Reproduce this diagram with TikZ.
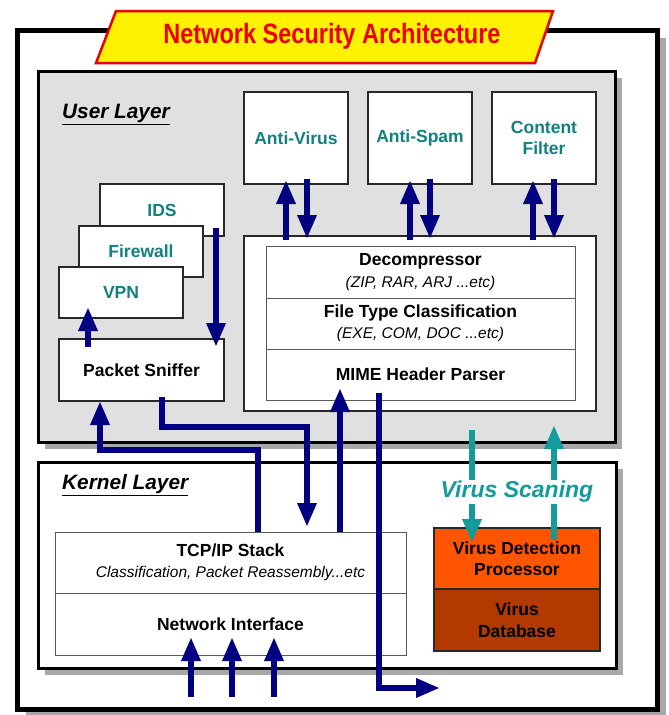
\documentclass[tikz,border=0pt]{standalone}
\usepackage{fontspec}
\setmainfont{Liberation Sans}
\usetikzlibrary{arrows.meta,calc,shadows}
\definecolor{navyc}{RGB}{0,0,128}
\definecolor{tealtxt}{RGB}{16,128,128}
\definecolor{tealarr}{RGB}{20,155,155}
\definecolor{layergray}{RGB}{224,224,224}
\definecolor{shadowgray}{RGB}{168,168,168}
\definecolor{vdorange}{RGB}{255,85,0}
\definecolor{vdbrown}{RGB}{178,58,0}
\definecolor{titlered}{RGB}{235,0,0}
\definecolor{boxline}{RGB}{40,40,40}
\definecolor{rowline}{RGB}{90,90,90}
\newcommand\subtxt[1]{{\normalfont\itshape\fontsize{15.5}{21.5}\selectfont #1}}
\tikzset{
  anyrect/.style={anchor=north west, inner sep=0pt, outer sep=0pt, align=center},
  layerbox/.style={anyrect, draw=black, line width=3pt,
    general shadow={fill=shadowgray, shadow xshift=6.5pt, shadow yshift=-6.5pt}},
  layertitle/.style={anchor=base west, inner sep=0pt,
    font=\bfseries\itshape\fontsize{20.8}{24}\selectfont},
  mbox/.style={anyrect, draw=boxline, line width=1.3pt, fill=white,
    font=\bfseries\fontsize{17.5}{21.5}\selectfont},
  svc/.style={mbox, text=tealtxt},
  rowbox/.style={anyrect, draw=rowline, line width=1pt, fill=white,
    font=\bfseries\fontsize{17.5}{21.5}\selectfont},
  vbox/.style={anyrect, draw=boxline, line width=1.3pt,
    font=\bfseries\fontsize{17.5}{21.5}\selectfont},
  navyarr/.style={draw=navyc, line width=6pt, line join=miter,
    -{Triangle[length=24pt,width=18pt]}},
  tealarrow/.style={draw=tealarr, line width=6pt,
    -{Triangle[length=24pt,width=18pt]}},
}
\begin{document}
\begin{tikzpicture}[x=1pt,y=-1pt]
\useasboundingbox (0,0) rectangle (669,715);

% outer frame
\node[anyrect, draw=black, line width=5pt, fill=white, minimum width=640, minimum height=679,
  general shadow={fill=shadowgray, shadow xshift=9pt, shadow yshift=-8pt}] (frame) at (17,30) {};

% title
\draw[draw=titlered, fill=yellow, line width=2.5pt, line join=miter]
  (96,63) -- (116,11) -- (553,11) -- (535,63) -- cycle;
\node[text=titlered, font=\bfseries\fontsize{28}{30}\selectfont, inner sep=0pt] (title) at (332,36)
  {\scalebox{0.84}[1]{Network Security Architecture}};

% user layer
\node[layerbox, fill=layergray, minimum width=577, minimum height=371] (user) at (38,71) {};
\node[layertitle] (userlbl) at (62,118) {\underline{User Layer}};

\node[svc, minimum width=104, minimum height=92] (av) at (244,92) {Anti-Virus};
\node[svc, minimum width=104, minimum height=92] (as) at (368,92) {Anti-Spam};
\node[svc, minimum width=104, minimum height=92] (cf) at (492,92) {Content\\Filter};

\node[mbox, minimum width=352, minimum height=175] (decomp) at (244,236) {};
\node[rowbox, minimum width=309, minimum height=52] (dec) at (266,246)
  {Decompressor\\\subtxt{(ZIP, RAR, ARJ ...etc)}};
\node[rowbox, minimum width=309, minimum height=51] (ftc) at (266,298)
  {File Type Classification\\\subtxt{(EXE, COM, DOC ...etc)}};
\node[rowbox, minimum width=309, minimum height=51] (mime) at (266,349) {MIME Header Parser};

\node[svc, minimum width=124, minimum height=52] (ids) at (100,184) {IDS};
\node[svc, minimum width=124, minimum height=51] (fw) at (79,226) {Firewall};
\node[svc, minimum width=124, minimum height=51] (vpn) at (59,267) {VPN};
\node[mbox, minimum width=165, minimum height=62] (sniffer) at (59,339) {Packet Sniffer};

% kernel layer
\node[layerbox, fill=white, minimum width=578, minimum height=206] (kernel) at (38,462) {};
\node[layertitle] (kernellbl) at (62,489) {\underline{Kernel Layer}};

\node[rowbox, minimum width=351, minimum height=61] (tcp) at (55,532)
  {TCP/IP Stack\\\subtxt{Classification, Packet Reassembly...etc}};
\node[rowbox, minimum width=351, minimum height=62] (nic) at (55,593) {Network Interface};

\node[vbox, fill=vdorange, minimum width=166, minimum height=61] (vdp) at (434,528) {Virus Detection\\Processor};
\node[vbox, fill=vdbrown, minimum width=166, minimum height=62] (vdb) at (434,589) {Virus\\Database};

% service arrows
\draw[navyarr] ($(av.south |- decomp.north)+(-10,4)$) -- ($(av.south)+(-10,-4)$);
\draw[navyarr] ($(av.south)+(11,-5)$) -- ($(av.south |- decomp.north)+(11,3)$);
\draw[navyarr] ($(as.south |- decomp.north)+(-10,4)$) -- ($(as.south)+(-10,-4)$);
\draw[navyarr] ($(as.south)+(10,-5)$) -- ($(as.south |- decomp.north)+(10,3)$);
\draw[navyarr] ($(cf.south |- decomp.north)+(-11,4)$) -- ($(cf.south)+(-11,-4)$);
\draw[navyarr] ($(cf.south)+(10,-5)$) -- ($(cf.south |- decomp.north)+(10,3)$);

% stack arrows
\draw[navyarr] ($(ids.south east)+(-8,-8)$) -- ($(sniffer.north east)+(-8,8)$);
\draw[navyarr] ($(sniffer.north west)+(29,8)$) -- ($(vpn.south west)+(29,-11)$);

% sniffer <-> tcp
\draw[navyarr] ($(sniffer.south)+(20.5,-4)$) |- ($(tcp.north)+(76.5,-105)$) -- ($(tcp.north)+(76.5,-5)$);
\draw[navyarr] ($(tcp.north)+(27.5,0)$) |- ($(sniffer.south)+(-41.5,49)$) -- ($(sniffer.south)+(-41.5,0)$);

% tcp -> mime, mime -> out
\draw[navyarr] ($(tcp.north)+(109.5,0)$) -- ($(mime.south)+(-80.5,-12)$);
\coordinate (out) at (440,688);
\draw[navyarr] ($(mime.south)+(-41.5,-7)$) |- (out);

% network input
\coordinate (in1) at (191,697);
\coordinate (in2) at (232,697);
\coordinate (in3) at (274,697);
\draw[navyarr] (in1) -- ($(in1 |- nic.south)+(0,-18)$);
\draw[navyarr] (in2) -- ($(in2 |- nic.south)+(0,-18)$);
\draw[navyarr] (in3) -- ($(in3 |- nic.south)+(0,-18)$);

% virus scanning
\draw[tealarrow] ($(vdp.north)+(-45,-98)$) -- ($(vdp.north)+(-45,15)$);
\draw[tealarrow] ($(vdp.north)+(37,12)$) -- ($(vdp.north)+(37,-103)$);
\node[fill=white, inner sep=1pt, text=tealarr, font=\bfseries\itshape\fontsize{23}{26}\selectfont] (scan) at (517,492) {Virus Scaning};
\end{tikzpicture}
\end{document}
